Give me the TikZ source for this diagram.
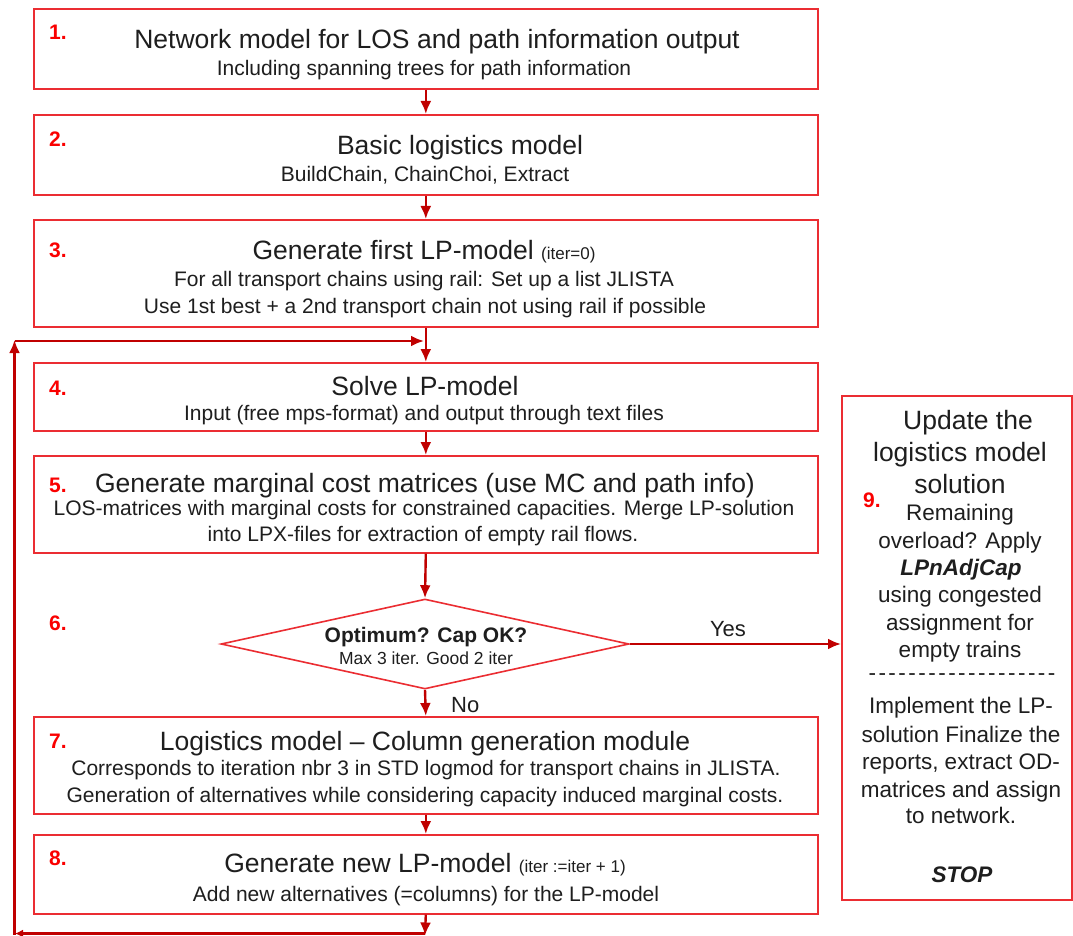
\documentclass[tikz,border=0pt]{standalone}
\usepackage{fontspec}
\setmainfont{Liberation Sans}
\newfontfamily\dashfont[LetterSpace=11,Ligatures=TeXOff]{Liberation Sans}
\usetikzlibrary{arrows.meta,shapes.geometric}
\definecolor{boxred}{RGB}{235,45,50}
\definecolor{arrred}{RGB}{192,0,0}
\definecolor{numred}{RGB}{250,0,0}
\definecolor{txt}{RGB}{30,30,30}
\newcommand{\fsz}[2]{\fontsize{#1}{#2}\selectfont}
\begin{document}
\begin{tikzpicture}[x=1pt,y=-1pt,
  box/.style={draw=boxred, line width=1.6pt, fill=white, inner sep=0pt, anchor=north west},
  arr/.style={draw=arrred, line width=2.4pt, -{Latex[length=13pt,width=11pt]}},
  ttl/.style={anchor=base, text=txt, font=\fsz{26.5}{30}, inner sep=0pt},
  sub/.style={anchor=base, text=txt, font=\fsz{21}{24}, inner sep=0pt},
  nine/.style={anchor=base, text=txt, font=\fsz{22.5}{27}, inner sep=0pt},
  num/.style={anchor=base west, text=numred, font=\fsz{21}{24}\bfseries, inner sep=0pt},
  lbl/.style={anchor=base, text=txt, font=\fsz{22}{26}, inner sep=0pt}
]
\useasboundingbox (0,0) rectangle (1073,936);

% boxes
\node[box, minimum width=784pt, minimum height=80pt] (b1) at (33,8) {};
\node[box, minimum width=784pt, minimum height=80pt] (b2) at (33,114) {};
\node[box, minimum width=784pt, minimum height=107pt] (b3) at (33,219) {};
\node[box, minimum width=784pt, minimum height=68pt] (b4) at (33,362) {};
\node[box, minimum width=784pt, minimum height=97pt] (b5) at (33,455) {};
\node[draw=boxred, line width=1.6pt, fill=white, diamond, inner sep=0pt,
      minimum width=408pt, minimum height=90pt] (d) at (425,644) {};
\node[box, minimum width=784pt, minimum height=97pt] (b7) at (33,716) {};
\node[box, minimum width=784pt, minimum height=79pt] (b8) at (33,834) {};
\node[box, minimum width=230pt, minimum height=504pt] (b9) at (841,395) {};

% numbers
\node[num] (n1) at (49,40) {1.};
\node[num] (n2) at (49,147) {2.};
\node[num] (n3) at (49,257) {3.};
\node[num] (n4) at (49,395) {4.};
\node[num] (n5) at (49,492) {5.};
\node[num] (n6) at (49,630) {6.};
\node[num] (n7) at (49,748) {7.};
\node[num] (n8) at (49,865) {8.};
\node[num] (n9) at (863,507) {9.};

% box texts
\node[ttl] (t1a) at (437,49) {Network model for LOS and path information output};
\node[sub] (t1b) at (424,76) {Including spanning trees for path information};

\node[ttl] (t2a) at (460,155) {Basic logistics model};
\node[sub] (t2b) at (425,182) {BuildChain, ChainChoi, Extract};

\node[ttl] (t3a) at (424,259) {Generate first LP-model {\fsz{17}{20}(iter=0)}};
\node[sub] (t3b) at (424,286) {For all transport chains using rail: Set up a list JLISTA};
\node[sub] (t3c) at (425,313) {Use 1st best + a 2nd transport chain not using rail if possible};

\node[ttl] (t4a) at (425,395) {Solve LP-model};
\node[sub] (t4b) at (424,420) {Input (free mps-format) and output through text files};

\node[ttl] (t5a) at (425,492) {Generate marginal cost matrices (use MC and path info)};
\node[sub] (t5b) at (424,515) {LOS-matrices with marginal costs for constrained capacities. Merge LP-solution};
\node[sub] (t5c) at (423,541) {into LPX-files for extraction of empty rail flows.};

\node[anchor=base, text=txt, font=\fsz{21}{24}\bfseries, inner sep=0pt] (t6a) at (426,642) {Optimum? Cap OK?};
\node[anchor=base, text=txt, font=\fsz{17.5}{20}, inner sep=0pt] (t6b) at (426,664) {Max 3 iter. Good 2 iter};

\node[ttl] (t7a) at (425,750) {Logistics model – Column generation module};
\node[sub] (t7b) at (426,775) {Corresponds to iteration nbr 3 in STD logmod for transport chains in JLISTA.};
\node[sub] (t7c) at (425,802) {Generation of alternatives while considering capacity induced marginal costs.};

\node[ttl] (t8a) at (425,872) {Generate new LP-model {\fsz{17}{20}(iter :=iter + 1)}};
\node[sub] (t8b) at (426,901) {Add new alternatives (=columns) for the LP-model};

% box 9 texts
\node[ttl] (t9a) at (968,429) {Update the};
\node[ttl] (t9b) at (960,461) {logistics model};
\node[ttl] (t9c) at (960,493) {solution};
\node[nine] (t9d) at (960,520) {Remaining};
\node[nine] (t9e) at (960,548) {overload? Apply};
\node[nine] (t9f) at (961,575) {\bfseries\itshape LPnAdjCap};
\node[nine] (t9g) at (960,602) {using congested};
\node[nine] (t9h) at (960,630) {assignment for};
\node[nine] (t9i) at (960,657) {empty trains};
\node[nine, font=\fsz{22.5}{27}\dashfont] (t9j) at (962,680) {-------------------};
\node[nine] (t9k) at (961,713) {Implement the LP-};
\node[nine] (t9l) at (961,742) {solution Finalize the};
\node[nine] (t9m) at (961,769) {reports, extract OD-};
\node[nine] (t9n) at (961,797) {matrices and assign};
\node[nine] (t9o) at (961,823) {to network.};
\node[nine] (t9p) at (962,882) {\bfseries\itshape STOP};

% connectors
\draw[arr] (b1.south) -- (b2.north);
\draw[arr] (b2.south) -- (b3.north);
\draw[arr] (b3.south) -- (b4.north);
\draw[arr] (b4.south) -- (b5.north);
\draw[arr] (b5.south) -- (d.north);
\draw[arr] (d.south) -- (b7.north);
\draw[arr] (b7.south) -- (b8.north);
\coordinate (lb) at (425,935.5);
\coordinate (lbr) at (425,933.5);
\coordinate (lbl) at (15,933.5);
\coordinate (lul) at (14.5,934.5);
\coordinate (lut) at (14.5,340);
\coordinate (lrs) at (15,341);
\coordinate (lre) at (424,341);
\draw[arr] (b8.south) -- (lb);
\draw[draw=arrred, line width=2.4pt, -{Latex[length=8pt,width=8pt]}] (lbr) -- (lbl);
\draw[arr] (lul) -- (lut);
\draw[arr] (lrs) -- (lre);
\draw[arr] (d.east) -- (d.east -| b9.west);

\node[lbl] (yes) at (728,636) {Yes};
\node[lbl, anchor=base west] (no) at (451,712) {No};
\end{tikzpicture}
\end{document}
